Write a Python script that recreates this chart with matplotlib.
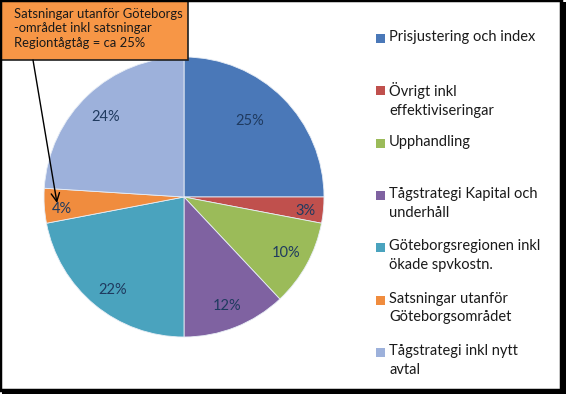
import matplotlib
matplotlib.use("Agg")
import matplotlib.pyplot as plt
import numpy as np
from matplotlib.patches import Rectangle, FancyArrowPatch

categories = [
    "Prisjustering och index",
    "Övrigt inkl\neffektiviseringar",
    "Upphandling",
    "Tågstrategi Kapital och\nunderhåll",
    "Göteborgsregionen inkl\nökade spvkostn.",
    "Satsningar utanför\nGöteborgsområdet",
    "Tågstrategi inkl nytt\navtal",
]
values = [25, 3, 10, 12, 22, 4, 24]
colors = ["#4A78B8", "#C0504D", "#9BBB59", "#7F62A1", "#4AA3BE", "#F08C3E", "#9DB1DB"]
callout_text = "Satsningar utanför Göteborgs\n-området inkl satsningar\nRegiontågtåg = ca 25%"

W, H = 566, 394
FONT = ["Lato", "DejaVu Sans"]
plt.rcParams['font.family'] = FONT

fig = plt.figure(figsize=(W / 100, H / 100), dpi=100)
fig.patch.set_facecolor("white")

def fx(x):
    return x / W

def fy(y):
    return 1 - y / H

# pie axes: center (184,197), radius 140 px
cx, cy, r = 184, 197, 140
ax = fig.add_axes([fx(cx - r), fy(cy + r), 2 * r / W, 2 * r / H])

wedges, _ = ax.pie(values, colors=colors, startangle=90, counterclock=False,
                   radius=1.0, wedgeprops=dict(linewidth=0.6, edgecolor="#e8eef6"))
ax.set_xlim(-1, 1)
ax.set_ylim(-1, 1)
ax.set_aspect("equal")
ax.axis("off")

label_dist = [0.72, 0.87, 0.83, 0.84, 0.84, 0.88, 0.80]
angle_shift = [-4, 1, 0, 0, -2, -2, -1]
cum = np.cumsum([0] + values)
total = sum(values)
for i, v in enumerate(values):
    mid = (cum[i] + v / 2) / total * 360 + angle_shift[i]
    ang = np.deg2rad(90 - mid)
    d = label_dist[i]
    ax.text(d * np.cos(ang), d * np.sin(ang), f"{v}%", ha="center", va="center",
            fontsize=10.5, color="#1F3A5F")

# legend
y0, step = 38, 52.3
for i, (lab, c) in enumerate(zip(categories, colors)):
    y = y0 + i * step
    fig.patches.append(Rectangle((fx(376), fy(y + 5)), 9 / W, 9 / H,
                                 transform=fig.transFigure, facecolor=c, edgecolor="none"))
    fig.text(fx(389), fy(y - 8), lab, ha="left", va="top", fontsize=10.5,
             color="#1a1a1a", linespacing=1.45)

# callout box
fig.patches.append(Rectangle((fx(1), fy(60)), 187 / W, 59 / H, transform=fig.transFigure,
                             facecolor="#F79646", edgecolor="#202020", linewidth=1.2, zorder=5))
fig.text(fx(14), fy(8), callout_text, ha="left", va="top", fontsize=9.4,
         color="#1a1a1a", linespacing=1.25, zorder=6)

# arrow
fig.add_artist(FancyArrowPatch(
    (fx(33), fy(60)), (fx(57), fy(203)), transform=fig.transFigure,
    arrowstyle="->,head_length=6,head_width=3", color="black", linewidth=1.0,
    shrinkA=0, shrinkB=0, zorder=7))

# outer border with shadow
fig.patches.append(Rectangle((0, fy(390)), fx(561), 1 - fy(390), transform=fig.transFigure,
                             facecolor="none", edgecolor="black", linewidth=2.5, zorder=10))
fig.patches.append(Rectangle((fx(561), 0), fx(5), fy(2), transform=fig.transFigure,
                             facecolor="black", edgecolor="none", zorder=10))
fig.patches.append(Rectangle((fx(2), 0), fx(562), 4 / H, transform=fig.transFigure,
                             facecolor="black", edgecolor="none", zorder=10))

fig.savefig("out.png", dpi=100, facecolor="white")
